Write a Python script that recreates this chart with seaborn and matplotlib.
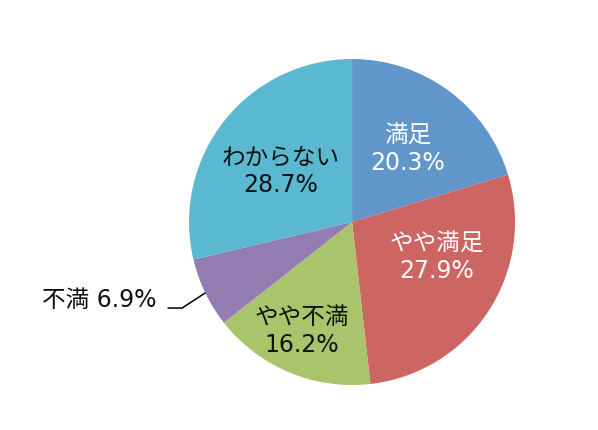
import matplotlib
matplotlib.use("Agg")
import matplotlib.pyplot as plt
import seaborn as sns

# data
categories = ["満足", "やや満足", "やや不満", "不満", "わからない"]
shares = [20.3, 27.9, 16.2, 6.9, 28.7]
colors = ["#6096c9", "#cd6662", "#a9c46b", "#937cb2", "#5bb8d1"]
text_colors = ["white", "white", "#111111", "#111111", "#111111"]

# label layout, in units of the pie radius
label_pos = [(0.34, 0.45), (0.52, -0.215), (-0.31, -0.67), (-1.55, -0.48), (-0.44, 0.31)]

sns.set_theme(style="white")
plt.rcParams['font.family'] = ['DejaVu Sans', 'Noto Sans CJK JP']

fig = plt.figure(figsize=(5.98, 4.30), dpi=100)
ax = fig.add_axes([0, 0, 1, 1])

wedges, texts = ax.pie(shares, labels=categories, colors=sns.color_palette(colors),
                       startangle=90, counterclock=False,
                       wedgeprops=dict(linewidth=0), labeldistance=0.6)

for i, t in enumerate(texts):
    t.set_position(label_pos[i])
    t.set_ha("center")
    t.set_va("center")
    t.set_fontsize(17)
    t.set_linespacing(1.2)
    t.set_color(text_colors[i])
    if categories[i] == "不満":
        t.set_text(f"{categories[i]} {shares[i]}%")
    else:
        t.set_text(f"{categories[i]}\n{shares[i]}%")

# leader line for the small slice
ax.plot([-1.129, -1.043, -0.902], [-0.528, -0.528, -0.436], color="black", lw=1.1)

ax.set_xlim(-2.160, 1.509)
ax.set_ylim(-1.276, 1.362)
ax.set_aspect("equal")
ax.axis("off")

fig.savefig("out.png", dpi=100)
